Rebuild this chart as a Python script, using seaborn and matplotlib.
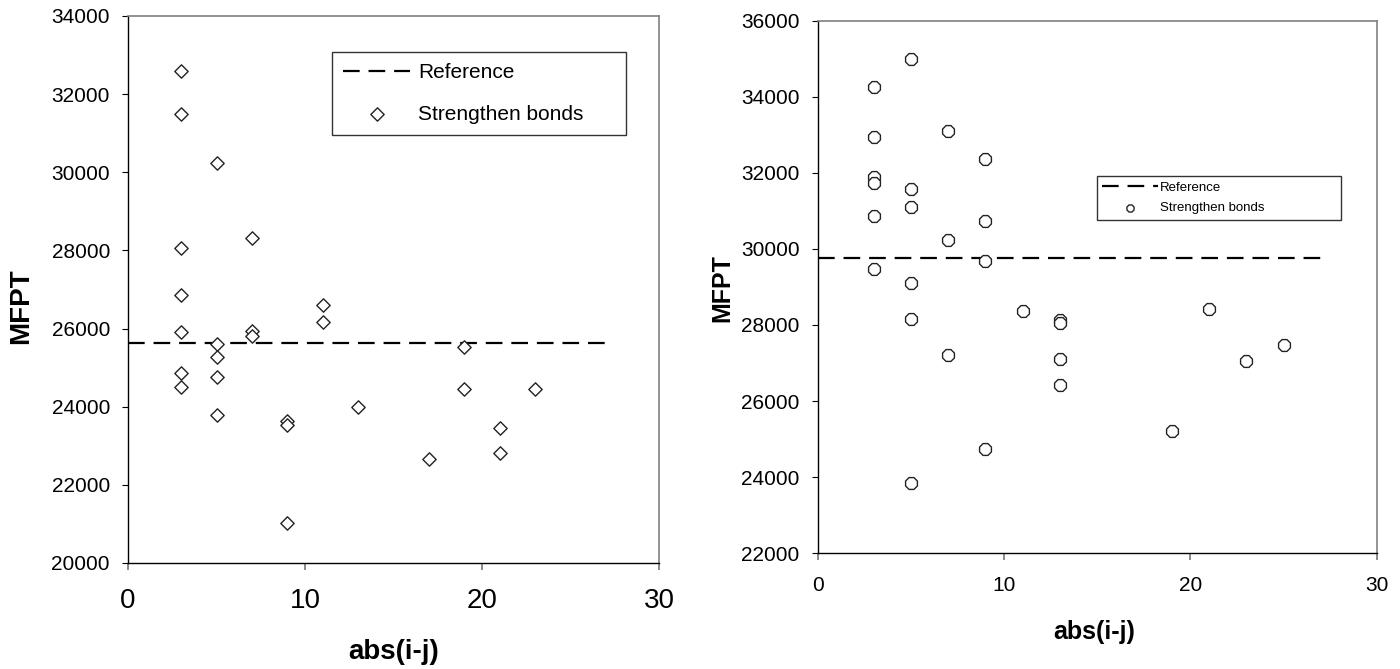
import matplotlib
matplotlib.use("Agg")
import matplotlib.pyplot as plt
import seaborn as sns
import pandas as pd

# ---- data: left panel ----
left_x = [3, 3, 3, 3, 3, 3, 3,
          5, 5, 5, 5, 5,
          7, 7, 7,
          9, 9, 9,
          11, 11,
          13, 17,
          19, 19,
          21, 21,
          23]
left_y = [32580, 31490, 28050, 26870, 25900, 24870, 24510,
          30240, 25610, 25280, 24760, 23790,
          28310, 25950, 25800,
          23640, 23540, 21030,
          26615, 26160,
          24000, 22665,
          25530, 24455,
          23450, 22815,
          24455]
left_ref_x = [0, 27]
left_ref_y = [25620, 25620]

# ---- data: right panel ----
right_x = [3, 3, 3, 3, 3, 3,
           5, 5, 5, 5, 5, 5,
           7, 7, 7,
           9, 9, 9, 9,
           11,
           13, 13, 13, 13,
           19, 21, 23, 25]
right_y = [34250, 32950, 31900, 31740, 30850, 29480,
           34990, 31580, 31100, 29110, 28155, 23840,
           33100, 30220, 27210,
           32370, 30740, 29680, 24740,
           28370,
           28130, 28060, 27100, 26420,
           25210, 28420, 27050, 27470]
right_ref_x = [0, 27]
right_ref_y = [29770, 29770]

xticks = [0, 10, 20, 30]
left_yticks = list(range(20000, 34001, 2000))
right_yticks = list(range(22000, 36001, 2000))

sns.set_style("white")
plt.rcParams["font.family"] = ["Liberation Sans", "DejaVu Sans"]
plt.rcParams["text.color"] = "black"
plt.rcParams["axes.labelcolor"] = "black"
plt.rcParams["xtick.labelcolor"] = "black"
plt.rcParams["ytick.labelcolor"] = "black"

fig = plt.figure(figsize=(14, 6.69), dpi=100)
W, H = 1400, 669
def axes_px(x0, x1, y0, y1):
    return fig.add_axes([x0 / W, 1 - y1 / H, (x1 - x0) / W, (y1 - y0) / H])

axL = axes_px(128, 659, 16, 563)
axR = axes_px(817.7, 1376.7, 20.5, 553.3)

def style(ax, xfs, yfs, xpad, ypad):
    for side in ["left", "bottom"]:
        ax.spines[side].set_color("black")
        ax.spines[side].set_linewidth(1.0)
    for side in ["top", "right"]:
        ax.spines[side].set_color("#808080")
        ax.spines[side].set_linewidth(1.2)
    ax.tick_params(axis="y", direction="out", length=4, width=0.8, color="black",
                   labelsize=yfs, pad=ypad, left=True, labelcolor="black")
    ax.tick_params(axis="x", direction="out", length=5, width=1.2, color="#777777",
                   labelsize=xfs, pad=xpad, bottom=True, labelcolor="black")

# ---- left panel ----
dfL = pd.DataFrame({"x": left_x, "y": left_y})
sns.lineplot(x=left_ref_x, y=left_ref_y, ax=axL, color="black", linewidth=1.6,
             linestyle=(0, (7.5, 4)), label="Reference", legend=False)
sns.scatterplot(data=dfL, x="x", y="y", ax=axL, marker="D", s=46, color="white",
                edgecolor="#222222", linewidth=1.0, label="Strengthen bonds", legend=False,
                zorder=3)
axL.set_xlim(0, 30)
axL.set_ylim(20000, 34000)
axL.set_xticks(xticks)
axL.set_yticks(left_yticks)
style(axL, 20, 15, 13, 9)
axL.set_xlabel("abs(i-j)", fontsize=20, fontweight="bold", color="black")
axL.set_ylabel("MFPT", fontsize=20, fontweight="bold", color="black")
axL.xaxis.set_label_coords(0.5, -0.163)
axL.xaxis.label.set_va("center")
axL.yaxis.set_label_coords(-0.2015, 0.47)
axL.yaxis.label.set_va("center")
legL = axL.legend(loc="upper left", bbox_to_anchor=(0.384, 0.781, 0.554, 0.154),
                  mode="expand", borderaxespad=0, fontsize=15, frameon=True,
                  fancybox=False, edgecolor="black", handlelength=3.2,
                  handletextpad=0.4, labelspacing=1.1, borderpad=0.55)
legL.get_frame().set_linewidth(1.0)

# ---- right panel ----
dfR = pd.DataFrame({"x": right_x, "y": right_y})
sns.lineplot(x=right_ref_x, y=right_ref_y, ax=axR, color="black", linewidth=1.6,
             linestyle=(0, (7.5, 4)), label="Reference", legend=False)
sns.scatterplot(data=dfR, x="x", y="y", ax=axR, marker="8", s=85, color="white",
                edgecolor="#222222", linewidth=1.0, label="Strengthen bonds", legend=False,
                zorder=3)
axR.set_xlim(0, 30)
axR.set_ylim(22000, 36000)
axR.set_xticks(xticks)
axR.set_yticks(right_yticks)
style(axR, 15, 15, 11, 9)
axR.set_xlabel("abs(i-j)", fontsize=18, fontweight="bold", color="black")
axR.set_ylabel("MFPT", fontsize=18, fontweight="bold", color="black")
axR.xaxis.set_label_coords(0.494, -0.148)
axR.xaxis.label.set_va("center")
axR.yaxis.set_label_coords(-0.171, 0.497)
axR.yaxis.label.set_va("center")
legR = axR.legend(loc="upper left", bbox_to_anchor=(0.4997, 0.629, 0.436, 0.079),
                  mode="expand", borderaxespad=0, fontsize=9.5, frameon=True,
                  fancybox=False, edgecolor="black", handlelength=4.2,
                  handletextpad=0.15, labelspacing=0.65, borderpad=0.4,
                  markerscale=0.6)
legR.get_frame().set_linewidth(1.0)

fig.savefig("out.png", dpi=100, facecolor="white")
